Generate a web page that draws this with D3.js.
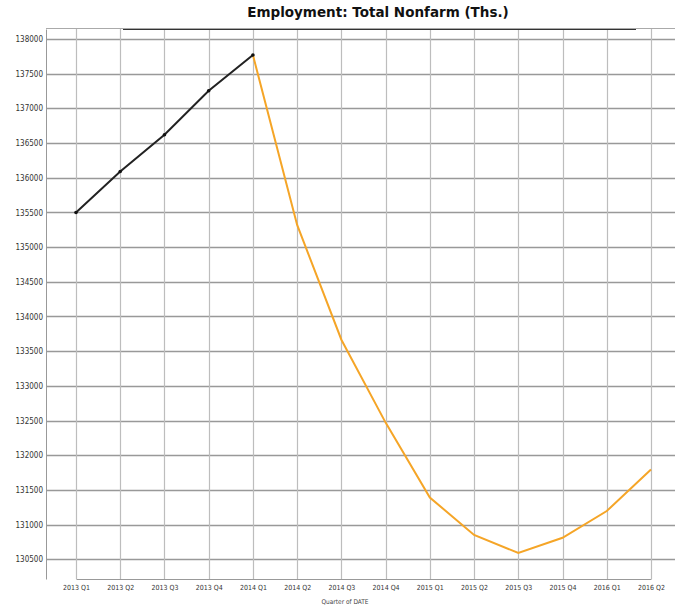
<!DOCTYPE html>
<html>
<head>
<meta charset="utf-8">
<script src="https://cdn.jsdelivr.net/npm/d3@7"></script>
<style>
  body { margin: 0; background: #fff; }
  svg { display: block; }
</style>
</head>
<body>
<div id="chart"></div>
<script>
// quarters on the x axis
const quarters = ['2013 Q1', '2013 Q2', '2013 Q3', '2013 Q4', '2014 Q1', '2014 Q2', '2014 Q3',
  '2014 Q4', '2015 Q1', '2015 Q2', '2015 Q3', '2015 Q4', '2016 Q1', '2016 Q2'];

// total nonfarm employment (thousands)
const employment = [135500, 136090, 136620, 137255, 137770, 135320, 133665,
  132470, 131390, 130850, 130590, 130810, 131195, 131795];

// index where the series switches from black to orange
const splitIndex = 4;

const yTicks = [130500, 131000, 131500, 132000, 132500, 133000, 133500, 134000,
  134500, 135000, 135500, 136000, 136500, 137000, 137500, 138000];

const W = 675, H = 606;
const margin = { top: 29, right: 0, bottom: 27, left: 46 };
const width = W - margin.left - margin.right;
const height = H - margin.top - margin.bottom;

const svg = d3.select('#chart').append('svg')
  .attr('width', W)
  .attr('height', H);

svg.append('text')
  .attr('x', 378)
  .attr('y', 17)
  .attr('text-anchor', 'middle')
  .attr('font-family', 'DejaVu Sans, sans-serif')
  .attr('font-weight', 'bold')
  .attr('font-size', '13.5px')
  .attr('fill', '#111')
  .text('Employment: Total Nonfarm (Ths.)');

const g = svg.append('g')
  .attr('transform', `translate(${margin.left},${margin.top})`);

const x = d3.scalePoint()
  .domain(quarters)
  .range([30, 30 + 44.23 * 13]);

const y = d3.scaleLinear()
  .domain([130215, 138145])
  .range([height, 0]);

// horizontal grid
g.append('g')
  .selectAll('line')
  .data(yTicks)
  .join('line')
  .attr('x1', 0)
  .attr('x2', width)
  .attr('y1', d => Math.round(y(d)) + 0.5)
  .attr('y2', d => Math.round(y(d)) + 0.5)
  .attr('stroke', '#999')
  .attr('stroke-width', 1.3);

// vertical grid
g.append('g')
  .selectAll('line')
  .data(quarters)
  .join('line')
  .attr('x1', d => Math.round(x(d)) + 0.5)
  .attr('x2', d => Math.round(x(d)) + 0.5)
  .attr('y1', 0)
  .attr('y2', height)
  .attr('stroke', '#bdbdbd')
  .attr('stroke-width', 1.2);

// top border
svg.append('line')
  .attr('x1', margin.left).attr('x2', W)
  .attr('y1', margin.top - 0.5).attr('y2', margin.top - 0.5)
  .attr('stroke', '#aaa');
svg.append('line')
  .attr('x1', 123).attr('x2', 636)
  .attr('y1', margin.top + 0.5).attr('y2', margin.top + 0.5)
  .attr('stroke', '#333');

// axes
const yAxis = g.append('g')
  .call(d3.axisLeft(y).tickValues(yTicks).tickSize(0).tickPadding(3).tickFormat(d3.format('d')));
yAxis.select('.domain').attr('stroke', '#999');
yAxis.selectAll('text')
  .attr('font-family', 'Liberation Sans Narrow, DejaVu Sans Condensed, sans-serif')
  .attr('font-size', '8px')
  .attr('fill', '#333');

const xAxis = g.append('g')
  .attr('transform', `translate(0,${height})`)
  .call(d3.axisBottom(x).tickSize(0).tickPadding(6));
xAxis.select('.domain').attr('stroke', '#999');
xAxis.selectAll('text')
  .attr('font-family', 'Liberation Sans Narrow, DejaVu Sans Condensed, sans-serif')
  .attr('font-size', '7px')
  .attr('fill', '#333');

svg.append('text')
  .attr('x', 345)
  .attr('y', 604)
  .attr('text-anchor', 'middle')
  .attr('font-family', 'Liberation Sans Narrow, DejaVu Sans Condensed, sans-serif')
  .attr('font-size', '6.5px')
  .attr('fill', '#444')
  .text('Quarter of DATE');

const data = quarters.map((q, i) => ({ q, value: employment[i] }));

const line = d3.line()
  .x(d => x(d.q))
  .y(d => y(d.value));

g.append('path')
  .datum(data.slice(splitIndex))
  .attr('fill', 'none')
  .attr('stroke', '#f5a527')
  .attr('stroke-width', 2)
  .attr('d', line);

g.append('path')
  .datum(data.slice(0, splitIndex + 1))
  .attr('fill', 'none')
  .attr('stroke', '#222')
  .attr('stroke-width', 2)
  .attr('d', line);

g.append('g')
  .selectAll('circle')
  .data(data.slice(0, splitIndex + 1))
  .join('circle')
  .attr('cx', d => x(d.q))
  .attr('cy', d => y(d.value))
  .attr('r', 1.8)
  .attr('fill', '#111');
</script>
</body>
</html>
